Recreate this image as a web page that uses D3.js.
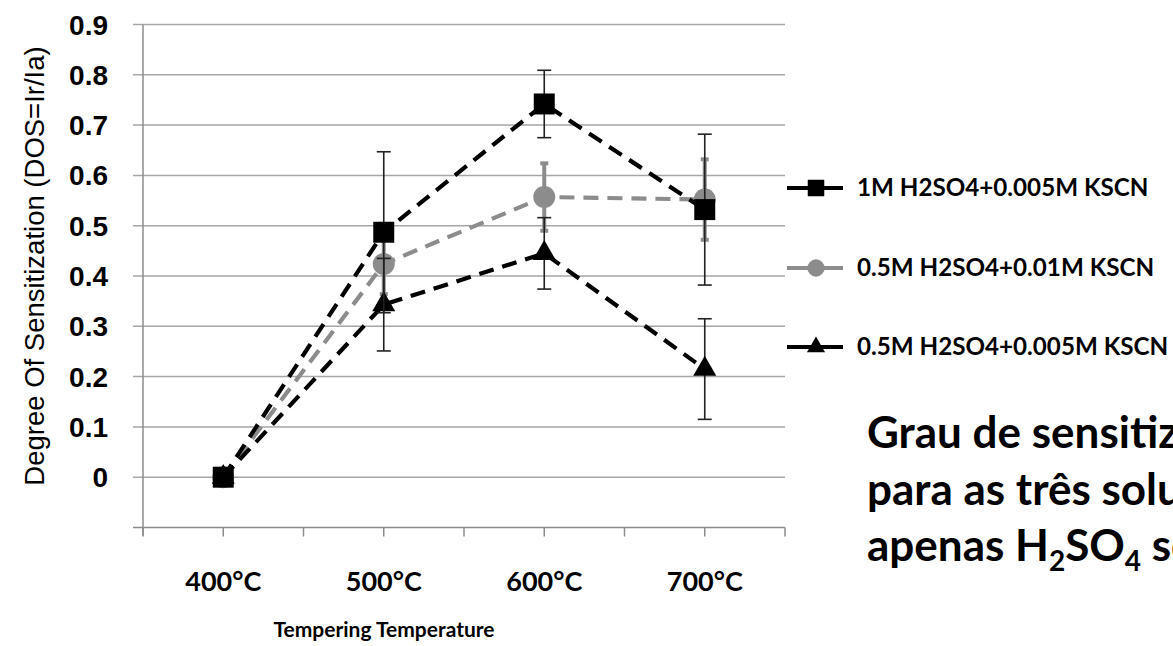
<!DOCTYPE html>
<html lang="en">
<head>
<meta charset="UTF-8">
<title>Degree of Sensitization vs Tempering Temperature</title>
<script src="https://cdnjs.cloudflare.com/ajax/libs/d3/7.8.5/d3.min.js"></script>
<style>
  body { margin: 0; background: #fff; }
  .grid line { stroke: #a6a6a6; stroke-width: 1.5px; }
  .ytick { font: bold 28px "Liberation Sans", Arial, sans-serif; }
  .xtick { font: bold 27px "Lato", sans-serif; }
  .legend text { font: bold 24.2px "Lato", sans-serif; }
  .note { font: bold 44px "Lato", sans-serif; }
</style>
</head>
<body>
<svg width="1173" height="646"></svg>
<script>
// categories and series values
const temps = ["400°C", "500°C", "600°C", "700°C"];
const seriesNames = ["1M H2SO4+0.005M KSCN", "0.5M H2SO4+0.01M KSCN", "0.5M H2SO4+0.005M KSCN"];
const dos1 = [0, 0.487, 0.742, 0.532];
const err1 = [0, 0.16, 0.067, 0.15];
const dos2 = [0, 0.424, 0.557, 0.552];
const err2 = [0, 0.06, 0.067, 0.08];
const dos3 = [0, 0.343, 0.445, 0.215];
const err3 = [0, 0.092, 0.071, 0.1];
const yTicks = [0, 0.1, 0.2, 0.3, 0.4, 0.5, 0.6, 0.7, 0.8, 0.9];

const svg = d3.select("svg");

const x = d3.scaleBand().domain(temps).range([143, 785]).padding(0);
const y = d3.scaleLinear().domain([-0.1, 0.9]).range([527.5, 24.5]);
const bw = x.bandwidth();
const cx = d => x(d) + bw / 2;

// horizontal gridlines
svg.append("g").attr("class", "grid")
  .selectAll("line").data(yTicks).enter().append("line")
  .attr("x1", 133).attr("x2", 785)
  .attr("y1", d => y(d)).attr("y2", d => y(d));

// axis lines
svg.append("line")
  .attr("x1", 143).attr("x2", 143).attr("y1", y(0.9)).attr("y2", y(-0.1) + 8)
  .attr("stroke", "#8c8c8c").attr("stroke-width", 1.5);
svg.append("line")
  .attr("x1", 133).attr("x2", 785).attr("y1", y(-0.1)).attr("y2", y(-0.1))
  .attr("stroke", "#8c8c8c").attr("stroke-width", 1.5);

// x ticks at band edges and band centres
const xTickPos = [];
temps.forEach(t => { xTickPos.push(x(t)); xTickPos.push(cx(t)); });
xTickPos.push(x.range()[1]);
svg.append("g").selectAll("line").data(xTickPos).enter().append("line")
  .attr("x1", d => d).attr("x2", d => d)
  .attr("y1", y(-0.1)).attr("y2", y(-0.1) + 9)
  .attr("stroke", "#8c8c8c").attr("stroke-width", 1.5);

// tick labels
svg.append("g").selectAll("text").data(yTicks).enter().append("text")
  .attr("class", "ytick")
  .attr("x", 108).attr("y", d => y(d) + 10)
  .attr("text-anchor", "end")
  .text(d => d === 0 ? "0" : d3.format(".1f")(d));

svg.append("g").selectAll("text").data(temps).enter().append("text")
  .attr("class", "xtick")
  .attr("x", d => cx(d)).attr("y", 591)
  .attr("text-anchor", "middle")
  .text(d => d);

// axis titles
svg.append("text")
  .attr("transform", "translate(44,266) rotate(-90)")
  .attr("text-anchor", "middle")
  .style("font", "27.5px 'Liberation Sans', Arial, sans-serif")
  .text("Degree Of Sensitization (DOS=Ir/Ia)");

svg.append("text")
  .attr("x", 384).attr("y", 637)
  .attr("text-anchor", "middle")
  .style("font", "bold 21px 'Lato', sans-serif")
  .text("Tempering Temperature");

// series
const series = [
  { name: seriesNames[1], vals: dos2, errs: err2, color: "#8c8c8c", shape: d3.symbolCircle, size: 380, ebw: 4, cap: 8 },
  { name: seriesNames[2], vals: dos3, errs: err3, color: "#000", shape: d3.symbolTriangle, size: 230, ebw: 1.6, cap: 14 },
  { name: seriesNames[0], vals: dos1, errs: err1, color: "#000", shape: d3.symbolSquare, size: 440, ebw: 1.6, cap: 14 }
];

const line = d3.line().x((d, i) => cx(temps[i])).y(d => y(d));

series.forEach(s => {
  const g = svg.append("g");
  g.append("path")
    .attr("d", line(s.vals))
    .attr("fill", "none")
    .attr("stroke", s.color)
    .attr("stroke-width", 4.2)
    .attr("stroke-dasharray", "15,9");

  const ebColor = s.color === "#000" ? "#222" : s.color;
  const eb = g.selectAll(".eb").data(s.vals.map((v, i) => ({ v, e: s.errs[i], t: temps[i] })).filter(d => d.e > 0))
    .enter().append("g");
  eb.append("line")
    .attr("x1", d => cx(d.t)).attr("x2", d => cx(d.t))
    .attr("y1", d => y(d.v + d.e)).attr("y2", d => y(d.v - d.e))
    .attr("stroke", ebColor).attr("stroke-width", s.ebw);
  [1, -1].forEach(sg => {
    eb.append("line")
      .attr("x1", d => cx(d.t) - s.cap / 2).attr("x2", d => cx(d.t) + s.cap / 2)
      .attr("y1", d => y(d.v + sg * d.e)).attr("y2", d => y(d.v + sg * d.e))
      .attr("stroke", ebColor).attr("stroke-width", s.ebw);
  });

  g.selectAll(".mk").data(s.vals).enter().append("path")
    .attr("d", d3.symbol().type(s.shape).size(s.size))
    .attr("transform", (d, i) => `translate(${cx(temps[i])},${y(d)})`)
    .attr("fill", s.color);
});

// legend
const legendY = [188, 268, 347];
const legendOrder = [series[2], series[0], series[1]];
const lg = svg.append("g").attr("class", "legend");
legendOrder.forEach((s, i) => {
  const row = lg.append("g").attr("transform", `translate(0,${legendY[i]})`);
  row.append("line").attr("x1", 787).attr("x2", 843).attr("y1", 0).attr("y2", 0)
    .attr("stroke", s.color).attr("stroke-width", 4);
  row.append("path")
    .attr("d", d3.symbol().type(s.shape).size(s.size * 0.62))
    .attr("transform", "translate(816,0)")
    .attr("fill", s.color);
  row.append("text").attr("x", 857).attr("y", 8).text(s.name);
});

// side note, cut by the right edge as in the source slide
const note = svg.append("text").attr("class", "note");
note.append("tspan").attr("x", 867).attr("y", 448).text("Grau de sensitiz");
note.append("tspan").attr("x", 867).attr("y", 505).text("para as três solu");
note.append("tspan").attr("x", 867).attr("y", 561).text("apenas H");
note.append("tspan").attr("dy", 10).style("font-size", "28px").text("2");
note.append("tspan").attr("dy", -10).text("SO");
note.append("tspan").attr("dy", 10).style("font-size", "28px").text("4");
note.append("tspan").attr("dy", -10).text(" so");
</script>
</body>
</html>
